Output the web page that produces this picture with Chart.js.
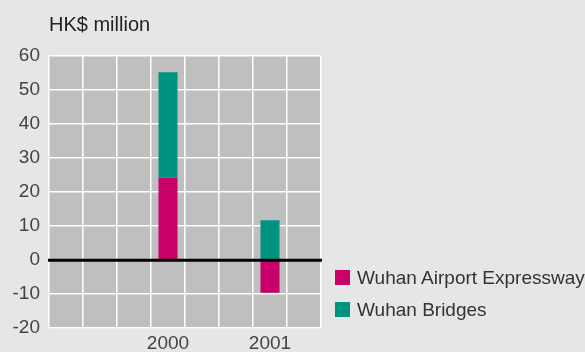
<!DOCTYPE html>
<html>
<head>
<meta charset="utf-8">
<script src="https://cdn.jsdelivr.net/npm/chart.js@4.4.0/dist/chart.umd.min.js"></script>
<style>
  html, body { margin: 0; padding: 0; background: #e6e6e6; overflow: hidden; }
  #wrap { width: 585px; height: 359px; position: relative; }
  #legend { position: absolute; left: 335px; top: 269px; font: 19px "Liberation Sans", Arial, sans-serif; color: #333; }
  #legend div { height: 32px; line-height: 17px; white-space: nowrap; }
  #legend span { display: inline-block; width: 15px; height: 15px; vertical-align: top; margin: 1px 7px 0 0; }
</style>
</head>
<body>
<div id="wrap"><canvas id="c"></canvas><div id="legend"></div></div>
<script>
// Chart data
const years = ['', '', '', '2000', '', '', '2001', ''];
const airportExpressway = [null, null, null, 24.2, null, null, -9.6, null];
const wuhanBridges = [null, null, null, 31.0, null, null, 11.7, null];
const yTicks = { min: -20, max: 60, step: 10 };

// grey plot background, unit title and zero line
const plotBg = {
  id: 'plotBg',
  beforeDraw(chart) {
    const { ctx, chartArea: a } = chart;
    ctx.save();
    ctx.fillStyle = '#bfbfbf';
    ctx.fillRect(a.left, a.top, a.right - a.left, a.bottom - a.top);
    ctx.restore();
  },
  afterDraw(chart) {
    const { ctx, chartArea: a } = chart;
    ctx.save();
    ctx.font = '20px "Liberation Sans"';
    ctx.fillStyle = '#222';
    ctx.textBaseline = 'middle';
    ctx.fillText('HK$ million', a.left, 25);
    const y0 = chart.scales.y.getPixelForValue(0);
    ctx.strokeStyle = '#000';
    ctx.lineWidth = 3;
    ctx.beginPath();
    ctx.moveTo(a.left - 1, y0);
    ctx.lineTo(a.right + 1, y0);
    ctx.stroke();
    ctx.restore();
  }
};

const chart = new Chart(document.getElementById('c'), {
  type: 'bar',
  data: {
    labels: years,
    datasets: [
      { label: 'Wuhan Airport Expressway', data: airportExpressway, backgroundColor: '#c8006a' },
      { label: 'Wuhan Bridges', data: wuhanBridges, backgroundColor: '#009480' }
    ]
  },
  options: {
    responsive: true,
    maintainAspectRatio: false,
    animation: false,
    layout: { padding: { top: 56, left: 0, right: 264, bottom: 0 } },
    datasets: { bar: { barPercentage: 0.56, categoryPercentage: 1 } },
    scales: {
      x: {
        stacked: true,
        grid: { color: '#fff', lineWidth: 1.5, drawTicks: false, offset: true },
        border: { display: false },
        ticks: {
          autoSkip: false, maxRotation: 0, padding: 4,
          color: '#444', font: { family: 'Liberation Sans', size: 19 }
        }
      },
      y: {
        stacked: true,
        min: yTicks.min, max: yTicks.max,
        grid: { color: '#fff', lineWidth: 1.5, drawTicks: false },
        border: { display: false },
        afterFit(s) { s.width = 49; },
        ticks: {
          stepSize: yTicks.step, padding: 9,
          color: '#444', font: { family: 'Liberation Sans', size: 19 }
        }
      }
    },
    plugins: {
      tooltip: { enabled: false },
      legend: { display: false }
    }
  },
  plugins: [plotBg]
});

// HTML legend built from the datasets
document.getElementById('legend').innerHTML = chart.data.datasets
  .map(d => `<div><span style="background:${d.backgroundColor}"></span>${d.label}</div>`)
  .join('');
</script>
</body>
</html>
